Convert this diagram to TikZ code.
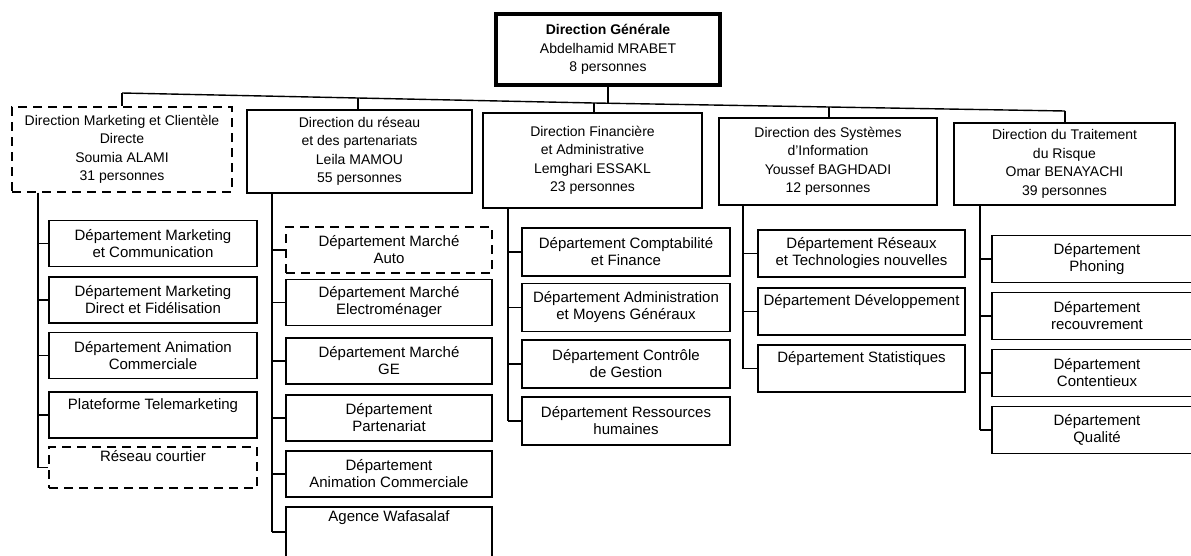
\documentclass[tikz,border=0pt]{standalone}
\usepackage{fontspec}
\setmainfont{Liberation Sans}
\begin{document}
\begin{tikzpicture}[x=1pt,y=-1pt,
  box/.style={draw, line width=1.4pt, align=center, inner sep=0pt, font=\fontsize{15}{17}\selectfont},
  dir/.style={box, font=\fontsize{14}{18.5}\selectfont},
  dbox/.style={dash pattern=on 9pt off 6pt},
  conn/.style={line width=1.4pt},
  dm/.style={box, minimum width=208, minimum height=46},
  dr/.style={box, minimum width=206, minimum height=46},
  df/.style={box, minimum width=208, minimum height=48},
  ds/.style={box, minimum width=207, minimum height=47},
  dk/.style={box, minimum width=210, minimum height=47}]
\clip (0,0) rectangle (1191,555);
\fill[white] (0,0) rectangle (1191,555);

% top
\node[dir, line width=3.2pt, minimum width=224, minimum height=71] (dG) at (608,49.5)
  {{\bfseries Direction Générale}\\Abdelhamid MRABET\\8 personnes};

% directions
\node[dir, dbox, minimum width=220, minimum height=85] (dM) at (122,149.5)
  {Direction Marketing et Clientèle\\Directe\\Soumia ALAMI\\31 personnes};
\node[dir, minimum width=225, minimum height=83] (dR) at (359.5,151.5)
  {Direction du réseau\\et des partenariats\\Leila MAMOU\\55 personnes};
\node[dir, minimum width=219, minimum height=95] (dF) at (592.5,160.5)
  {Direction Financière\\et Administrative\\Lemghari ESSAKL\\23 personnes};
\node[dir, minimum width=218, minimum height=87] (dS) at (828,161.5)
  {Direction des Systèmes\\d'Information\\Youssef BAGHDADI\\12 personnes};
\node[dir, minimum width=221, minimum height=82] (dK) at (1064.5,164)
  {Direction du Traitement\\du Risque\\Omar BENAYACHI\\39 personnes};

% bus
\coordinate (bM) at (122,93);
\coordinate (bR) at (358,98);
\coordinate (bF) at (594,103);
\coordinate (bS) at (829,107);
\coordinate (bK) at (1065,111);
\draw[conn] (bM) -- (bR) -- (bF) -- (bS) -- (bK);
\draw[conn] (dG.south) -- (dG.south |- bF);
\draw[conn] (bM) -- (bM |- dM.north);
\draw[conn] (bR) -- (bR |- dR.north);
\draw[conn] (bF) -- (bF |- dF.north);
\draw[conn] (bS) -- (bS |- dS.north);
\draw[conn] (bK) -- (bK |- dK.north);

% Marketing departments
\node[dm] (m1) at (153,243.5) {Département Marketing\\et Communication};
\node[dm] (m2) at (153,300) {Département Marketing\\Direct et Fidélisation};
\node[dm] (m3) at (153,355.5) {Département Animation\\Commerciale};
\node[dm] (m4) at (153,415) {Plateforme Telemarketing\\\strut};
\node[dm, dbox, minimum height=41] (m5) at (153,467.5) {Réseau courtier\\\strut};
\coordinate (cM) at (38,0);
\draw[conn] (cM |- dM.south) -- (cM |- m5.west);
\foreach \n in {m1,m2,m3,m4,m5} \draw[conn] (cM |- \n.west) -- (\n.west);

% Reseau departments
\node[dr, dbox] (r1) at (389,250) {Département Marché\\Auto};
\node[dr] (r2) at (389,302.5) {Département Marché\\Electroménager};
\node[dr] (r3) at (389,361) {Département Marché\\GE};
\node[dr] (r4) at (389,418) {Département\\Partenariat};
\node[dr] (r5) at (389,474) {Département\\Animation Commerciale};
\node[dr, minimum height=50] (r6) at (389,532) {Agence Wafasalaf\\\strut\\[-7pt]\strut};
\coordinate (cR) at (272,0);
\draw[conn] (cR |- dR.south) -- (cR |- r6.west);
\foreach \n in {r1,r2,r3,r4,r5,r6} \draw[conn] (cR |- \n.west) -- (\n.west);

% Financiere departments
\node[df] (f1) at (626,252) {Département Comptabilité\\et Finance};
\node[df] (f2) at (626,307.5) {Département Administration\\et Moyens Généraux};
\node[df] (f3) at (626,364) {Département Contrôle\\de Gestion};
\node[df] (f4) at (626,421) {Département Ressources\\humaines};
\coordinate (cF) at (508,0);
\draw[conn] (cF |- dF.south) -- (cF |- f4.west);
\foreach \n in {f1,f2,f3,f4} \draw[conn] (cF |- \n.west) -- (\n.west);

% Systemes departments
\node[ds] (s1) at (861.5,253.5) {Département Réseaux\\et Technologies nouvelles};
\node[ds] (s2) at (861.5,311.5) {Département Développement\\\strut};
\node[ds] (s3) at (861.5,368.5) {Département Statistiques\\\strut};
\coordinate (cS) at (743,0);
\draw[conn] (cS |- dS.south) -- (cS |- s3.west);
\foreach \n in {s1,s2,s3} \draw[conn] (cS |- \n.west) -- (\n.west);

% Risque departments
\node[dk] (k1) at (1097,259) {Département\\Phoning};
\node[dk] (k2) at (1097,316) {Département\\recouvrement};
\node[dk] (k3) at (1097,373) {Département\\Contentieux};
\node[dk] (k4) at (1097,430) {Département\\Qualité};
\coordinate (cK) at (980,0);
\draw[conn] (cK |- dK.south) -- (cK |- k4.west);
\foreach \n in {k1,k2,k3,k4} \draw[conn] (cK |- \n.west) -- (\n.west);
\end{tikzpicture}
\end{document}
